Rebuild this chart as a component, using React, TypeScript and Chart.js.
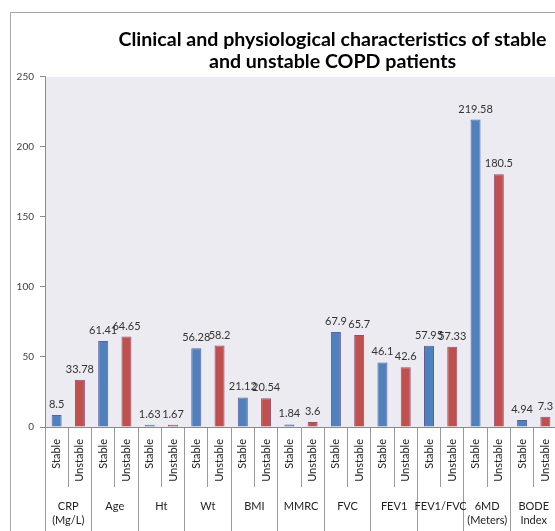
import React, { useEffect, useRef } from 'react';
import { Chart, registerables } from 'chart.js';

Chart.register(...registerables);

// ---- data ----
const groupLabels: string[][] = [
  ['CRP', '(Mg/L)'],
  ['Age'],
  ['Ht'],
  ['Wt'],
  ['BMI'],
  ['MMRC'],
  ['FVC'],
  ['FEV1'],
  ['FEV1/FVC'],
  ['6MD', '(Meters)'],
  ['BODE', 'Index'],
];
const statusLabels = ['Stable', 'Unstable'];
const stableValues = [8.5, 61.41, 1.63, 56.28, 21.12, 1.84, 67.9, 46.1, 57.95, 219.58, 4.94];
const unstableValues = [33.78, 64.65, 1.67, 58.2, 20.54, 3.6, 65.7, 42.6, 57.33, 180.5, 7.3];
const yMin = 0;
const yMax = 250;
const yStep = 50;
const titleLines = [
  'Clinical and physiological characteristics of stable',
  'and unstable COPD patients',
];

const STABLE_COLOR = '#4F81BD';
const UNSTABLE_COLOR = '#C0504D';

const categories = groupLabels.flatMap(() => statusLabels);
const barValues = groupLabels.flatMap((_, i) => [stableValues[i], unstableValues[i]]);
const barColors = groupLabels.flatMap(() => [STABLE_COLOR, UNSTABLE_COLOR]);
const barBorders = groupLabels.flatMap(() => ['#5f5f9c', '#8f4f78']);

const plotBgPlugin = {
  id: 'plotBg',
  beforeDraw(chart: any) {
    const { ctx, chartArea } = chart;
    ctx.save();
    ctx.fillStyle = '#ebebf1';
    ctx.fillRect(chartArea.left, chartArea.top, chartArea.right - chartArea.left, chartArea.bottom - chartArea.top);
    ctx.restore();
  },
};

const valueLabelPlugin = {
  id: 'valueLabels',
  afterDatasetsDraw(chart: any) {
    const { ctx } = chart;
    const meta = chart.getDatasetMeta(0);
    const data = chart.data.datasets[0].data as number[];
    ctx.save();
    ctx.font = '11px Lato';
    ctx.fillStyle = '#333333';
    ctx.textAlign = 'center';
    ctx.textBaseline = 'bottom';
    meta.data.forEach((el: any, i: number) => {
      ctx.fillText(String(data[i]), el.x, el.y - 5);
    });
    ctx.restore();
  },
};

export default function App() {
  const canvasRef = useRef<HTMLCanvasElement | null>(null);

  useEffect(() => {
    if (!canvasRef.current) return;
    const chart = new Chart(canvasRef.current, {
      type: 'bar',
      data: {
        labels: categories,
        datasets: [
          {
            data: barValues,
            backgroundColor: barColors,
            borderColor: barBorders,
            borderWidth: 1,
            categoryPercentage: 1,
            barPercentage: 0.43,
            xAxisID: 'x',
            yAxisID: 'y',
          },
        ],
      },
      options: {
        animation: false,
        responsive: false,
        layout: { padding: 0 },
        plugins: {
          legend: { display: false },
          tooltip: { enabled: false },
          title: {
            display: true,
            text: titleLines,
            color: '#000000',
            font: { family: 'Lato', size: 19.6, weight: 'bold', lineHeight: 1.12 },
            padding: { top: 16, bottom: 4 },
          },
        },
        scales: {
          x: {
            type: 'category',
            position: 'bottom',
            weight: 0,
            offset: true,
            grid: {
              display: true,
              offset: true,
              drawOnChartArea: false,
              drawTicks: true,
              tickLength: 60,
              color: '#9a9a9a',
            },
            border: { display: true, color: '#8a8a8a' },
            ticks: {
              autoSkip: false,
              minRotation: 90,
              maxRotation: 90,
              padding: -48,
              color: '#222222',
              font: { family: 'Lato', size: 11 },
            },
            afterFit: (s: any) => {
              s.height = 54;
            },
          },
          x2: {
            type: 'category',
            position: 'bottom',
            weight: 1,
            labels: groupLabels as any,
            offset: true,
            grid: {
              display: true,
              offset: true,
              drawOnChartArea: false,
              drawTicks: true,
              tickLength: 62,
              color: '#9a9a9a',
            },
            border: { display: false },
            ticks: {
              autoSkip: false,
              minRotation: 0,
              maxRotation: 0,
              padding: -44,
              color: '#222222',
              font: { family: 'Lato', size: 11, lineHeight: 1.3 },
            },
            afterFit: (s: any) => {
              s.height = 62;
            },
          },
          y: {
            type: 'linear',
            position: 'left',
            min: yMin,
            max: yMax,
            grid: {
              display: true,
              drawOnChartArea: false,
              drawTicks: true,
              tickLength: 5,
              color: '#8a8a8a',
            },
            border: { display: true, color: '#8a8a8a' },
            ticks: {
              stepSize: yStep,
              padding: 6,
              color: '#404040',
              font: { family: 'Lato', size: 10 },
            },
            afterFit: (s: any) => {
              s.width = 34;
            },
          },
          yRight: {
            type: 'linear',
            position: 'right',
            display: true,
            grid: { display: false, drawTicks: false },
            border: { display: false },
            ticks: { display: false },
            afterFit: (s: any) => {
              s.width = 97;
            },
          },
        },
      },
      plugins: [plotBgPlugin, valueLabelPlugin],
    } as any);
    return () => chart.destroy();
  }, []);

  return (
    <div
      style={{
        position: 'fixed',
        left: 0,
        top: 0,
        width: 555,
        height: 531,
        overflow: 'hidden',
        background: '#ffffff',
      }}
    >
      <div
        style={{
          position: 'absolute',
          left: 10,
          top: 12,
          width: 645,
          height: 545,
          border: '1px solid #a6a6a6',
          boxSizing: 'border-box',
          background: '#ffffff',
        }}
      >
        <canvas ref={canvasRef} width={643} height={530} style={{ display: 'block' }} />
      </div>
    </div>
  );
}
